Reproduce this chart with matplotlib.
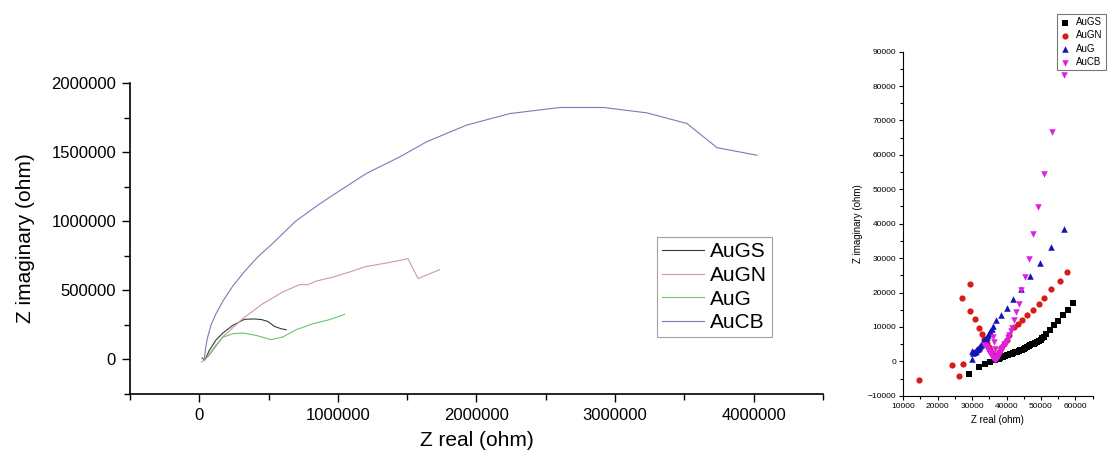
import numpy as np
import matplotlib
matplotlib.use("Agg")
import matplotlib.pyplot as plt
from matplotlib.ticker import MultipleLocator, FormatStrFormatter

plt.rcParams['font.family'] = ['Liberation Sans', 'DejaVu Sans']

# =======================
# Nyquist (main plot) data
# =======================
augs_x = [20e3, 40e3, 72e3, 120e3, 169e3, 241e3, 325e3, 398e3, 450e3, 494e3, 542e3, 590e3, 627e3]
augs_y = [10e3, -5e3, 65e3, 140e3, 190e3, 246e3, 290e3, 293e3, 288e3, 275e3, 239e3, 222e3, 215e3]

augn_x = [15e3, 40e3, 72e3, 169e3, 313e3, 458e3, 602e3, 723e3, 783e3, 844e3, 964e3,
          1085e3, 1193e3, 1253e3, 1350e3, 1440e3, 1506e3, 1579e3, 1650e3, 1735e3]
augn_y = [-20e3, 0, 29e3, 162e3, 295e3, 403e3, 488e3, 541e3, 541e3, 567e3, 596e3,
          633e3, 670e3, 681e3, 698e3, 715e3, 730e3, 585e3, 615e3, 650e3]

aug_x = [30e3, 48e3, 108e3, 169e3, 241e3, 313e3, 410e3, 518e3, 602e3, 699e3, 819e3, 940e3, 1048e3]
aug_y = [5e3, 5e3, 89e3, 160e3, 186e3, 191e3, 174e3, 143e3, 162e3, 215e3, 258e3, 288e3, 326e3]

aucb_x = [36e3, 45e3, 60e3, 85e3, 120e3, 169e3, 241e3, 325e3, 420e3, 530e3, 694e3, 860e3, 962e3,
          1205e3, 1446e3, 1639e3, 1928e3, 2241e3, 2603e3, 2916e3, 3230e3, 3519e3, 3736e3, 4025e3]
aucb_y = [0, 80e3, 160e3, 250e3, 330e3, 420e3, 530e3, 635e3, 740e3, 840e3, 1000e3, 1120e3, 1188e3,
          1346e3, 1466e3, 1575e3, 1696e3, 1780e3, 1824e3, 1824e3, 1785e3, 1708e3, 1533e3, 1478e3]

# =======================
# Inset (zoom near origin) data
# =======================
s_augs_x = [29.0e3, 31.9e3, 33.8e3, 35.3e3, 36.7e3, 37.2e3, 37.7e3, 38.2e3, 38.6e3, 39.0e3, 39.5e3,
            40.0e3, 40.5e3, 41.1e3, 41.5e3, 42.0e3, 42.5e3, 43.0e3, 43.5e3, 44.0e3, 44.5e3, 45.0e3,
            45.5e3, 46.0e3, 46.5e3, 46.9e3, 47.4e3, 47.9e3, 48.4e3, 48.9e3, 49.4e3, 49.9e3, 50.3e3,
            50.8e3, 51.5e3, 52.6e3, 53.7e3, 55.0e3, 56.4e3, 57.9e3, 59.2e3]
s_augs_y = [-3.6e3, -1.7e3, -0.7e3, -0.2e3, 0.3e3, 0.6e3, 0.8e3, 1.0e3, 1.2e3, 1.4e3, 1.5e3,
            1.7e3, 1.9e3, 2.0e3, 2.2e3, 2.4e3, 2.6e3, 2.8e3, 3.0e3, 3.2e3, 3.4e3, 3.6e3,
            3.8e3, 4.1e3, 4.4e3, 4.7e3, 4.9e3, 5.1e3, 5.4e3, 5.6e3, 6.0e3, 6.3e3, 6.7e3,
            7.1e3, 8.0e3, 9.2e3, 10.5e3, 11.7e3, 13.4e3, 15.0e3, 17.1e3]

s_augn_x = [14.7e3, 24.2e3, 26.1e3, 27.3e3, 27.1e3, 29.5e3, 29.3e3, 30.9e3, 31.9e3, 32.9e3,
            33.6e3, 34.2e3, 34.8e3, 35.3e3, 35.8e3, 36.3e3, 36.8e3, 37.3e3, 37.9e3, 38.5e3,
            39.2e3, 40.0e3, 40.8e3, 42.1e3, 43.2e3, 44.5e3, 46.0e3, 47.6e3, 49.4e3, 51.0e3,
            52.9e3, 55.5e3, 57.6e3]
s_augn_y = [-5.3e3, -1.2e3, -4.4e3, -0.7e3, 18.4e3, 22.6e3, 14.6e3, 12.3e3, 9.8e3, 8.0e3,
            6.5e3, 5.2e3, 4.2e3, 3.2e3, 2.4e3, 1.6e3, 1.2e3, 1.8e3, 2.8e3, 3.8e3,
            5.0e3, 6.2e3, 7.6e3, 10.0e3, 10.8e3, 12.1e3, 13.4e3, 15.0e3, 16.6e3, 18.5e3,
            20.9e3, 23.3e3, 26.1e3]

s_aug_x = [30.0e3, 30.0e3, 30.2e3, 30.4e3, 30.6e3, 30.8e3, 31.0e3, 31.2e3, 31.5e3, 31.7e3, 31.9e3,
           32.1e3, 32.4e3, 32.6e3, 32.8e3, 33.0e3, 33.3e3, 33.5e3, 33.8e3, 34.0e3, 34.3e3,
           34.6e3, 35.0e3, 35.3e3, 35.7e3, 36.1e3, 37.0e3, 38.5e3, 40.2e3, 41.9e3, 44.3e3,
           46.7e3, 49.6e3, 52.9e3, 56.8e3]
s_aug_y = [0.8e3, 3.0e3, 2.4e3, 2.6e3, 2.7e3, 2.8e3, 3.0e3, 3.2e3, 3.5e3, 3.7e3, 4.0e3,
           4.2e3, 4.5e3, 4.8e3, 5.1e3, 5.4e3, 5.8e3, 6.1e3, 6.5e3, 6.8e3, 7.2e3,
           7.7e3, 8.2e3, 8.7e3, 9.4e3, 10.2e3, 11.9e3, 13.6e3, 15.6e3, 18.2e3, 21.1e3,
           24.7e3, 28.6e3, 33.2e3, 38.6e3]

s_aucb_x = [33.6e3, 33.9e3, 34.2e3, 34.5e3, 34.7e3, 35.0e3, 35.2e3, 35.4e3, 35.6e3, 35.8e3, 36.0e3,
            36.1e3, 36.3e3, 36.4e3, 36.6e3, 36.7e3, 36.9e3, 37.0e3, 37.2e3, 37.4e3, 37.6e3,
            37.8e3, 38.0e3, 38.3e3, 38.5e3, 38.8e3, 39.1e3, 39.4e3, 39.7e3, 40.0e3, 40.4e3,
            40.8e3, 41.2e3, 41.6e3, 42.3e3, 42.8e3, 43.7e3, 44.3e3, 45.5e3, 46.6e3, 47.7e3,
            49.2e3, 51.0e3, 53.2e3, 56.6e3]
s_aucb_y = [4.8e3, 4.4e3, 4.0e3, 3.6e3, 3.2e3, 2.8e3, 2.4e3, 2.0e3, 1.7e3, 1.3e3, 7.1e3,
            1.0e3, 5.5e3, 0.6e3, 3.5e3, 0.4e3, 0.6e3, 0.8e3, 1.1e3, 1.4e3, 1.7e3,
            2.1e3, 2.5e3, 2.9e3, 3.3e3, 3.8e3, 4.3e3, 4.9e3, 5.4e3, 6.0e3, 6.9e3,
            7.8e3, 8.8e3, 9.8e3, 11.9e3, 14.3e3, 16.8e3, 20.8e3, 24.5e3, 29.6e3, 36.9e3,
            44.9e3, 54.4e3, 66.7e3, 83.1e3]

labels = ["AuGS", "AuGN", "AuG", "AuCB"]

# =======================
# Figure
# =======================
fig = plt.figure(figsize=(11.15, 4.57), dpi=100)

ax = fig.add_axes([0.1166, 0.138, 0.6214, 0.680])
ax.plot(augs_x, augs_y, color="#3a3a3a", lw=0.8, label=labels[0])
ax.plot(augn_x, augn_y, color="#d09a9a", lw=0.8, label=labels[1])
ax.plot(aug_x, aug_y, color="#6cc46c", lw=0.8, label=labels[2])
ax.plot(aucb_x, aucb_y, color="#7a7ab8", lw=0.8, label=labels[3])

ax.set_xlim(-500000, 4500000)
ax.set_ylim(-250000, 2000000)
ax.xaxis.set_minor_locator(MultipleLocator(500000))
ax.yaxis.set_minor_locator(MultipleLocator(250000))
ax.xaxis.set_major_formatter(FormatStrFormatter("%d"))
ax.yaxis.set_major_formatter(FormatStrFormatter("%d"))
ax.set_xticks([0, 1000000, 2000000, 3000000, 4000000])
ax.set_yticks([0, 500000, 1000000, 1500000, 2000000])
ax.tick_params(which="major", direction="out", length=6, width=1, labelsize=12, pad=4)
ax.tick_params(which="minor", direction="out", length=4, width=1)
for s in ["top", "right"]:
    ax.spines[s].set_visible(False)
for s in ["left", "bottom"]:
    ax.spines[s].set_linewidth(1.2)
ax.set_xlabel("Z real (ohm)", fontsize=15, labelpad=6)
ax.set_ylabel("Z imaginary (ohm)", fontsize=15, labelpad=12)

leg = ax.legend(loc="upper left", bbox_to_anchor=(0.589, 0.481), bbox_transform=fig.transFigure,
                fontsize=15, frameon=True, fancybox=False, edgecolor="#888888",
                handlelength=2.0, handletextpad=0.3, labelspacing=0.22, borderpad=0.25,
                borderaxespad=0)
leg.get_frame().set_linewidth(0.8)

# =======================
# Inset scatter
# =======================
ax2 = fig.add_axes([0.81, 0.134, 0.170, 0.753])
ax2.scatter(s_augs_x, s_augs_y, marker="s", s=16, color="#000000", label=labels[0], linewidths=0)
ax2.scatter(s_augn_x, s_augn_y, marker="o", s=20, color="#d81a1a", label=labels[1], linewidths=0)
ax2.scatter(s_aug_x, s_aug_y, marker="^", s=22, color="#1414b4", label=labels[2], linewidths=0)
ax2.scatter(s_aucb_x, s_aucb_y, marker="v", s=22, color="#e020e0", label=labels[3], linewidths=0)

ax2.set_xlim(10000, 65000)
ax2.set_ylim(-10000, 90000)
ax2.xaxis.set_minor_locator(MultipleLocator(5000))
ax2.yaxis.set_major_locator(MultipleLocator(10000))
ax2.yaxis.set_minor_locator(MultipleLocator(5000))
ax2.set_xticks([10000, 20000, 30000, 40000, 50000, 60000])
ax2.tick_params(which="major", direction="out", length=3, width=0.8, labelsize=6, pad=2)
ax2.tick_params(which="minor", direction="out", length=2, width=0.8)
for s in ["top", "right"]:
    ax2.spines[s].set_visible(False)
for s in ["left", "bottom"]:
    ax2.spines[s].set_linewidth(0.8)
ax2.set_xlabel("Z real (ohm)", fontsize=7, labelpad=4)
ax2.set_ylabel("Z imaginary (ohm)", fontsize=7, labelpad=3)

leg2 = ax2.legend(loc="upper left", bbox_to_anchor=(0.948, 0.969), bbox_transform=fig.transFigure,
                  fontsize=7, frameon=True, fancybox=False, edgecolor="#555555",
                  handlelength=1.0, handletextpad=0.7, labelspacing=0.35, borderpad=0.3,
                  borderaxespad=0, markerscale=1.0)
leg2.get_frame().set_linewidth(0.8)

fig.savefig("out.png", dpi=100)
